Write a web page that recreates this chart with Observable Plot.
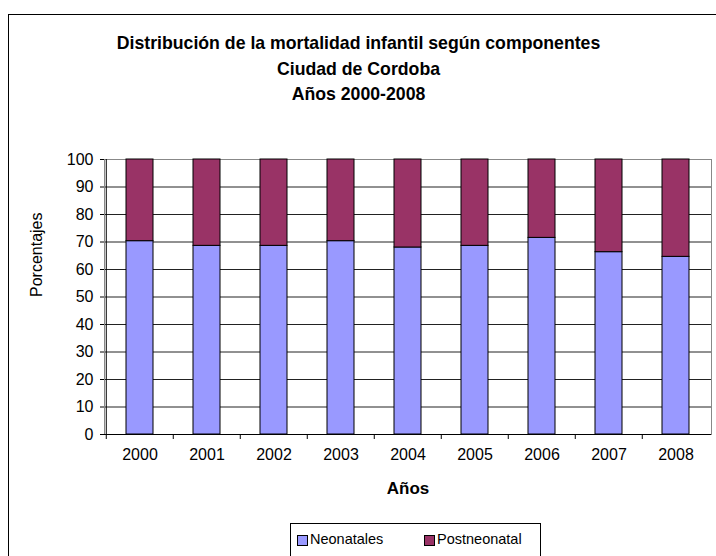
<!DOCTYPE html>
<html>
<head>
<meta charset="utf-8">
<script src="https://cdn.jsdelivr.net/npm/d3@7"></script>
<script src="https://cdn.jsdelivr.net/npm/@observablehq/plot@0.6"></script>
<style>
  html, body { margin: 0; padding: 0; background: #fff; }
  #wrap { position: relative; width: 716px; height: 556px; overflow: hidden; font-family: "Liberation Sans", Arial, sans-serif; }
  #border { position: absolute; left: 8px; top: 14px; width: 740px; height: 600px; border: 1px solid #000; box-sizing: border-box; }
  #title { position: absolute; left: 0; top: 31px; width: 717px; text-align: center; font-weight: bold; font-size: 17.7px; line-height: 25.5px; color: #000; }
  #legend { position: absolute; left: 290px; top: 523px; width: 251px; height: 60px; border: 1px solid #000; box-sizing: border-box; font-size: 14.5px; }
  .sw { position: absolute; width: 9px; height: 9px; border: 1px solid #000; top: 11px; }
  .lt { position: absolute; top: 7px; line-height: 17px; }
  #chart { position: absolute; left: 0; top: 0; }
</style>
</head>
<body>
<div id="wrap">
  <div id="border"></div>
  <div id="chart"></div>
  <div id="title"></div>
  <div id="legend"></div>
</div>
<script>
const titleLines = ["Distribución de la mortalidad infantil según componentes", "Ciudad de Cordoba", "Años 2000-2008"];
const years = ["2000", "2001", "2002", "2003", "2004", "2005", "2006", "2007", "2008"];
const series = ["Neonatales", "Postneonatal"];
const colors = ["#9999FF", "#993366"];
const neonatales = [70.3, 68.6, 68.6, 70.3, 68.0, 68.6, 71.5, 66.3, 64.6];
const postneonatal = [29.7, 31.4, 31.4, 29.7, 32.0, 31.4, 28.5, 33.7, 35.4];
const yTicks = [0, 10, 20, 30, 40, 50, 60, 70, 80, 90, 100];
const xLabel = "Años";
const yLabel = "Porcentajes";

const data = [];
years.forEach((y, i) => {
  data.push({year: y, serie: series[0], value: neonatales[i]});
  data.push({year: y, serie: series[1], value: postneonatal[i]});
});

const W = 716, H = 556, mL = 104, mR = 5, mT = 159, mB = 122;
const step = (W - mL - mR) / years.length;

const chart = Plot.plot({
  width: W, height: H,
  marginLeft: mL, marginRight: mR, marginTop: mT, marginBottom: mB,
  style: {fontFamily: "'Liberation Sans', Arial, sans-serif", fontSize: "16px", color: "#000", background: "transparent", overflow: "visible"},
  x: {domain: years, paddingInner: 0.6, paddingOuter: 0.3, label: null},
  y: {domain: [0, 100], label: null},
  color: {domain: series, range: colors},
  marks: [
    Plot.gridY(yTicks, {stroke: "#222", strokeOpacity: 1}),
    Plot.frame({stroke: "#888"}),
    Plot.barY(data, {x: "year", y: "value", fill: "serie", stroke: "#000", strokeWidth: 1}),
    Plot.ruleY([0], {stroke: "#000"}),
    Plot.ruleX([years[0]], {dx: -step / 2, stroke: "#000"}),
    Plot.axisY({ticks: yTicks, tickSize: 4, tickPadding: 7, stroke: "#000", fontSize: 16}),
    Plot.axisX({tickSize: 5, tickFormat: () => "", dx: -step / 2, stroke: "#000"}),
    Plot.axisX({tickSize: 0, tickPadding: 14, fontSize: 16}),
    Plot.text([xLabel], {frameAnchor: "bottom", dy: 59, fontWeight: "bold", fontSize: 17, fill: "#000"}),
    Plot.text([yLabel], {frameAnchor: "left", dx: -68, rotate: -90, fontSize: 16, fill: "#000"})
  ]
});
document.getElementById("chart").appendChild(chart);

const t = document.getElementById("title");
titleLines.forEach(s => { const d = document.createElement("div"); d.textContent = s; t.appendChild(d); });

const lg = document.getElementById("legend");
const pos = [[6, 19], [133, 146]];
series.forEach((s, i) => {
  const sw = document.createElement("div");
  sw.className = "sw"; sw.style.left = pos[i][0] + "px"; sw.style.background = colors[i];
  lg.appendChild(sw);
  const tx = document.createElement("div");
  tx.className = "lt"; tx.style.left = pos[i][1] + "px"; tx.textContent = s;
  lg.appendChild(tx);
});
</script>
</body>
</html>
